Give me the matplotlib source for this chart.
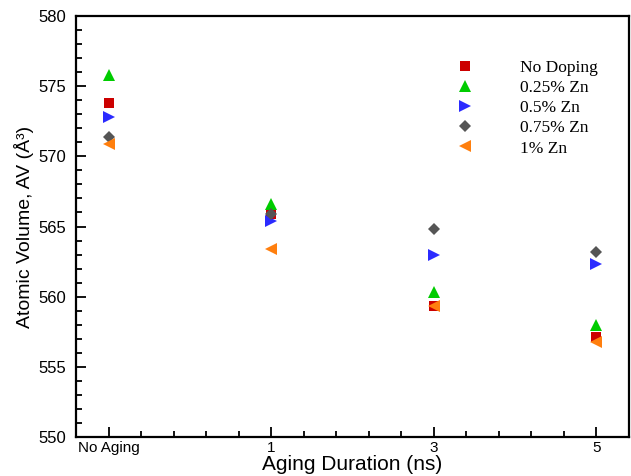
import matplotlib
matplotlib.use('Agg')
import matplotlib.pyplot as plt
from matplotlib.ticker import MultipleLocator

plt.rcParams['font.family'] = ['Liberation Sans', 'DejaVu Sans']

# Dados
duracoes = ['No Aging', '1', '3', '5']
series = ['No Doping', '0.25% Zn', '0.5% Zn', '0.75% Zn', '1% Zn']
no_doping = [573.8, 565.9, 559.3, 557.1]
zn_025 = [575.8, 566.6, 560.3, 558.0]
zn_05 = [572.8, 565.4, 563.0, 562.3]
zn_075 = [571.4, 565.9, 564.8, 563.2]
zn_1 = [570.9, 563.4, 559.3, 556.8]

valores = [no_doping, zn_025, zn_05, zn_075, zn_1]
marcadores = ['s', '^', '>', 'D', '<']
cores = ['#cc0000', '#00cc00', '#2b2bff', '#555555', '#ff7f0e']
tamanhos = [7, 8, 8, 6.5, 8]

fig = plt.figure(figsize=(6.31, 4.76), dpi=100)
ax = fig.add_axes([0.1204, 0.0819, 0.8764, 0.8845])

x = list(range(len(duracoes)))
for nome, vals, m, c, s in zip(series, valores, marcadores, cores, tamanhos):
    ax.plot(x, vals, linestyle='none', marker=m, color=c, markersize=s,
            markeredgewidth=0, label=nome)

ax.set_xlim(-0.2, 3.2)
ax.set_ylim(550, 580)
ax.set_xticks(x)
ax.set_xticklabels(duracoes)
ax.xaxis.set_minor_locator(MultipleLocator(0.2))
ax.yaxis.set_major_locator(MultipleLocator(5))
ax.yaxis.set_minor_locator(MultipleLocator(1))

ax.tick_params(which='both', direction='in', top=False, right=False, width=1.3)
ax.tick_params(which='major', length=7.5)
ax.tick_params(which='minor', length=4.5)
ax.tick_params(axis='y', labelsize=12, pad=7)
ax.tick_params(axis='x', labelsize=11, pad=3)
for sp in ax.spines.values():
    sp.set_linewidth(1.6)

ax.set_xlabel('Aging Duration (ns)', fontsize=15, labelpad=0)
ax.set_ylabel('Atomic Volume, AV (Å³)', fontsize=14, labelpad=3)

ax.legend(loc='upper left', bbox_to_anchor=(0.687, 0.896), frameon=False,
          borderaxespad=0, borderpad=0,
          handlelength=1, handletextpad=2.7, labelspacing=0.23,
          prop={'family': 'Liberation Serif', 'size': 12.5})

fig.savefig('out.png', dpi=100)
